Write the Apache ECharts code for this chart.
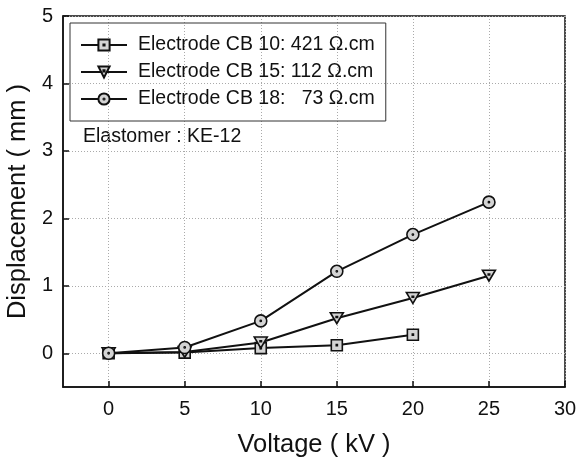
<!DOCTYPE html>
<html>
<head>
<meta charset="utf-8">
<script src="https://cdn.jsdelivr.net/npm/echarts@6/dist/echarts.min.js"></script>
<style>
  html, body { margin: 0; padding: 0; background: #fff; }
  #chart { width: 576px; height: 457px; }
</style>
</head>
<body>
<div id="chart"></div>
<script>
// voltage steps (kV)
const voltage = [0, 5, 10, 15, 20, 25];
const seriesNames = [
    'Electrode CB 10: 421 \u03A9.cm',
    'Electrode CB 15: 112 \u03A9.cm',
    'Electrode CB 18:   73 \u03A9.cm'
];
// displacement (mm)
const cb10 = [0, 0.01, 0.077, 0.12, 0.275];
const cb15 = [0, 0.02, 0.16, 0.52, 0.82, 1.15];
const cb18 = [0, 0.086, 0.48, 1.215, 1.76, 2.24];
const xTicks = [0, 5, 10, 15, 20, 25, 30];
const yTicks = [0, 1, 2, 3, 4, 5];

const FONT = '"Liberation Sans", Arial, sans-serif';
const markers = [
    { symbol: 'path://M0,0H20V20H0Z M9,9H11V11H9Z', size: 11 },
    { symbol: 'path://M0,0H20L10,18Z M9,6H11V8H9Z', size: [13, 11] },
    { symbol: 'path://M0,10A10,10 0 1,1 20,10A10,10 0 1,1 0,10Z M9,10A1,1 0 1,1 11,10A1,1 0 1,1 9,10Z', size: 12 }
];

const chart = echarts.init(document.getElementById('chart'));

const gridLine = { show: true, lineStyle: { color: '#aaa', width: 1, type: [1, 2] } };

chart.setOption({
    animation: false,
    textStyle: { fontFamily: FONT },
    grid: {
        left: 63, right: 11, top: 16, bottom: 70,
        outerBoundsMode: 'none',
        show: true, borderColor: '#111', borderWidth: 1.5
    },
    legend: {
        orient: 'vertical',
        left: 70, top: 23,
        padding: [12, 11, 12, 10],
        itemWidth: 46, itemHeight: 14, itemGap: 7,
        borderColor: '#333', borderWidth: 1,
        textStyle: { fontSize: 19.5, color: '#111', fontFamily: FONT, padding: [0, 0, 0, 6] },
        data: seriesNames
    },
    graphic: [{
        type: 'text', left: 83, top: 127,
        style: { text: 'Elastomer : KE-12', fontSize: 19.5, fill: '#111', fontFamily: FONT }
    }],
    xAxis: {
        type: 'value', min: -3, max: 30,
        name: 'Voltage ( kV )', nameLocation: 'middle', nameGap: 45,
        nameTextStyle: { fontSize: 25.5, color: '#111', fontFamily: FONT },
        axisLine: { onZero: false, lineStyle: { color: '#111', width: 1.5 } },
        axisTick: { inside: true, length: 6, customValues: xTicks, lineStyle: { color: '#111', width: 1.5 } },
        axisLabel: { customValues: xTicks, fontSize: 20, color: '#111', margin: 12 },
        splitLine: Object.assign({ customValues: xTicks.slice(0, -1) }, gridLine)
    },
    yAxis: {
        type: 'value', min: -0.5, max: 5,
        name: 'Displacement ( mm )', nameLocation: 'middle', nameGap: 27,
        nameTextStyle: { fontSize: 25.5, color: '#111', fontFamily: FONT },
        axisLine: { onZero: false, lineStyle: { color: '#111', width: 1.5 } },
        axisTick: { inside: true, length: 6, customValues: yTicks, lineStyle: { color: '#111', width: 1.5 } },
        axisLabel: { customValues: yTicks, fontSize: 20, color: '#111', margin: 10 },
        splitLine: Object.assign({ customValues: yTicks.slice(0, -1) }, gridLine)
    },
    series: [cb10, cb15, cb18].map((vals, i) => ({
        type: 'line',
        name: seriesNames[i],
        data: vals.map((v, j) => [voltage[j], v]),
        symbol: markers[i].symbol,
        symbolSize: markers[i].size,
        showAllSymbol: true,
        lineStyle: { color: '#111', width: 2 },
        itemStyle: { color: '#d4d4d4', borderColor: '#111', borderWidth: 1.6 },
        z: 2 + i
    }))
});
</script>
</body>
</html>
